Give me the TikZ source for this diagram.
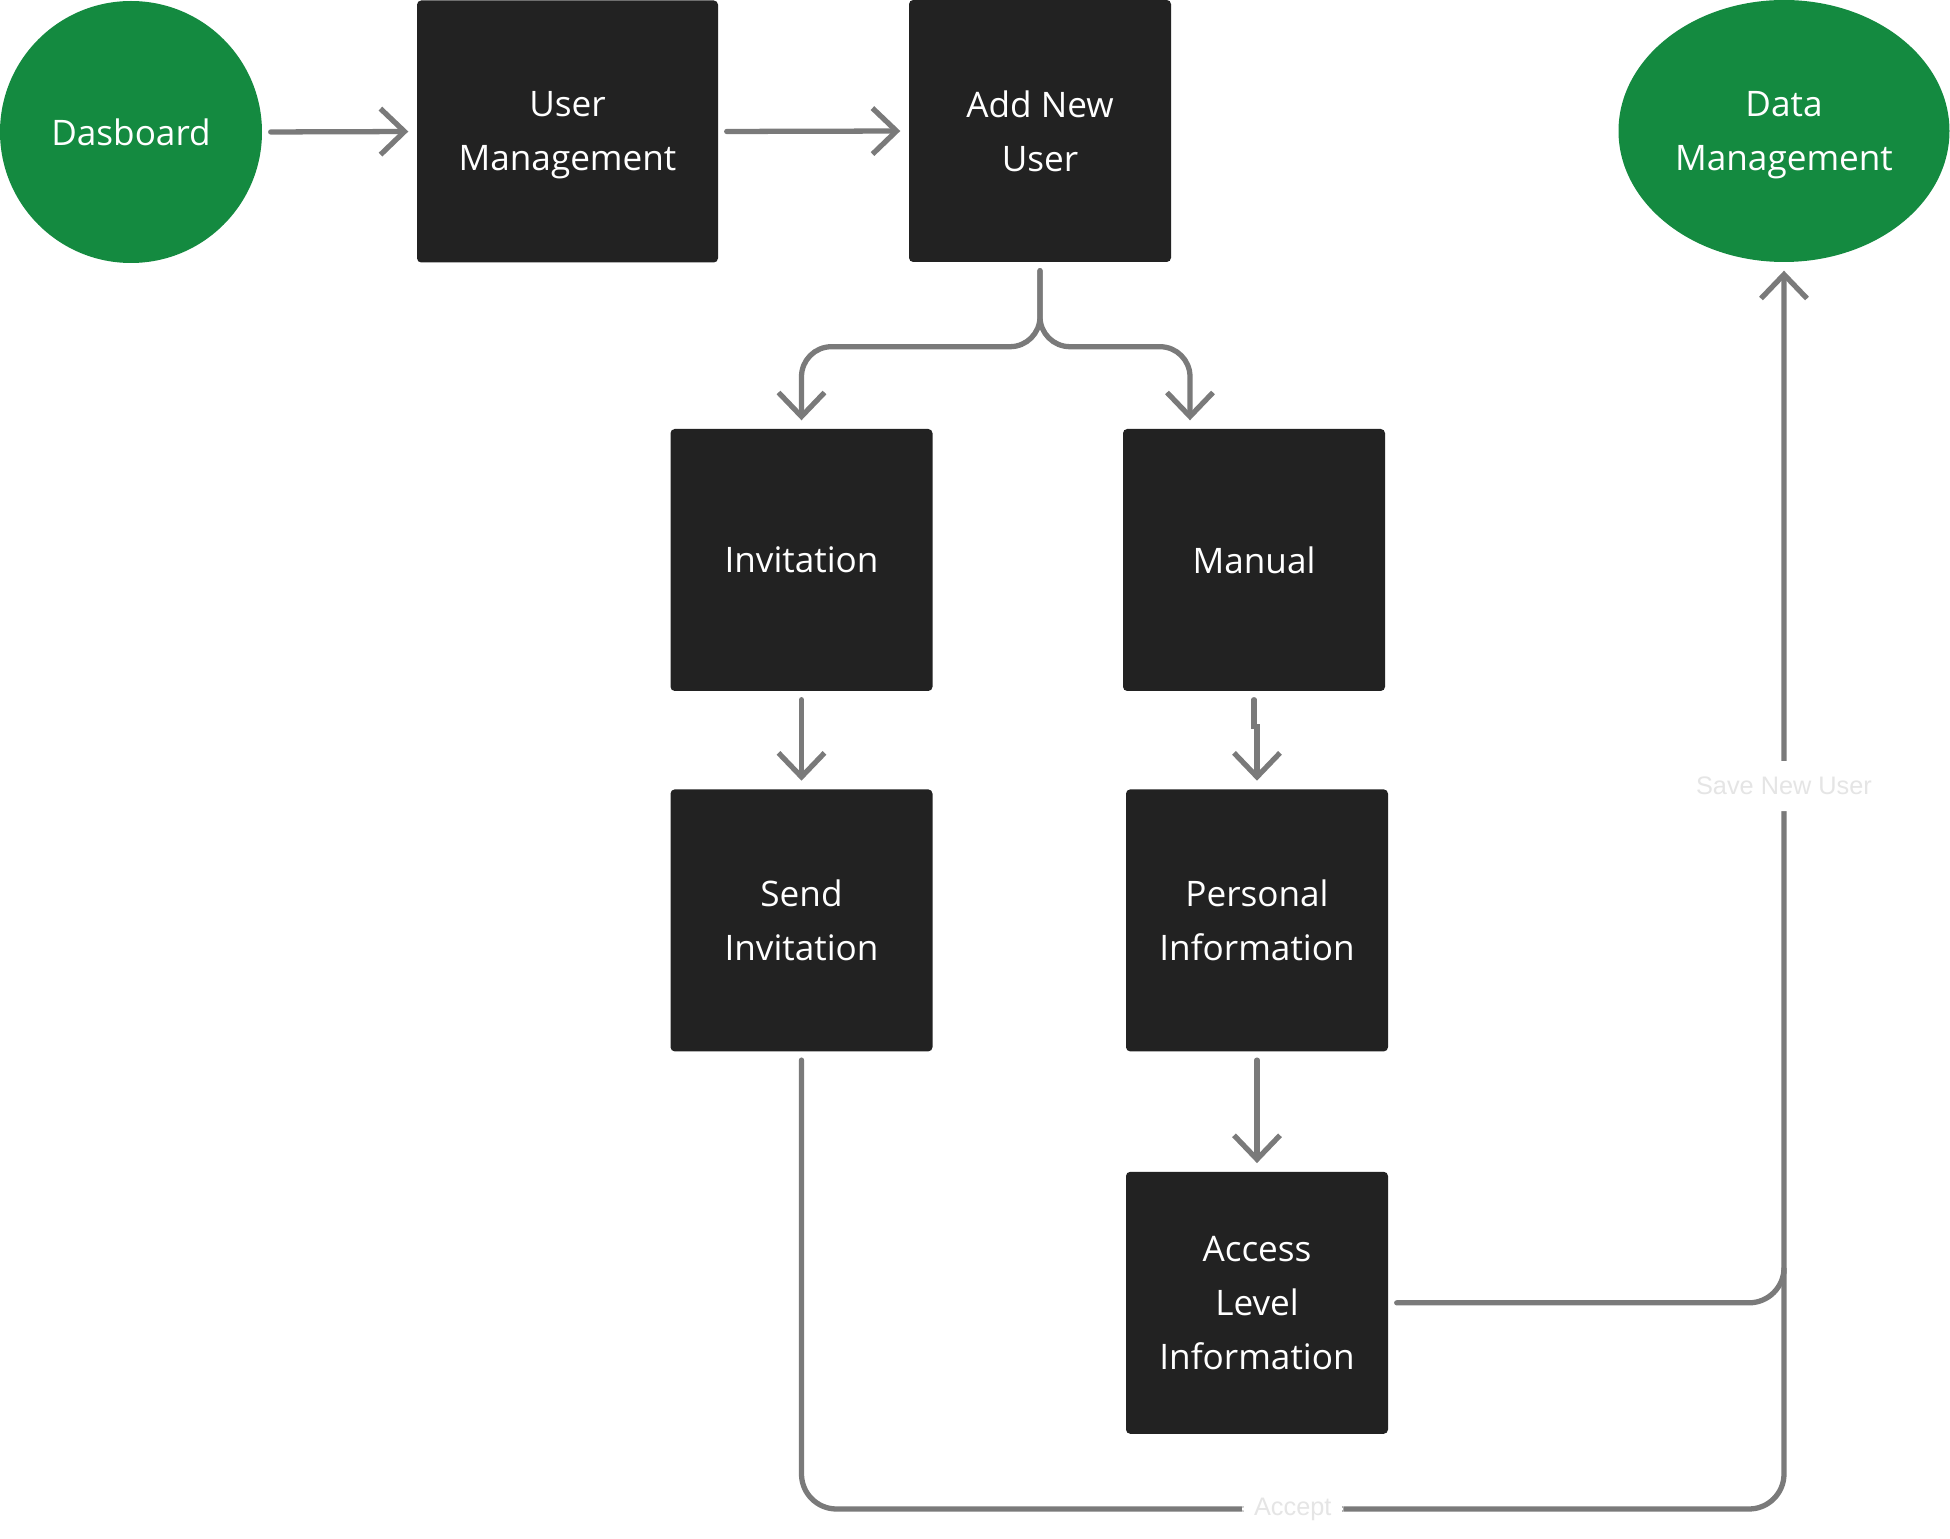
\documentclass[tikz,border=0pt]{standalone}
\usepackage{fontspec}
\setmainfont{Open Sans}
\newfontfamily\labelfont{Liberation Sans}
\usetikzlibrary{positioning,arrows.meta,shapes.geometric,calc}
\definecolor{boxgray}{HTML}{222222}
\definecolor{leafgreen}{HTML}{148A40}
\definecolor{linegray}{HTML}{7A7A7A}

\begin{document}
\begin{tikzpicture}[
    node distance=0.97cm,
    box/.style={fill=boxgray, rounded corners=1.2pt, minimum width=2.62cm, minimum height=2.62cm, text=white, align=center, font=\fontsize{10}{15.3}\selectfont, inner sep=0pt},
    term/.style={fill=leafgreen, text=white, align=center, font=\fontsize{10}{15.3}\selectfont, inner sep=0pt},
    flow/.style={linegray, line width=1.5pt, line cap=round, shorten <=0.08cm, shorten >=0.08cm},
    tip/.style={-{Straight Barb[length=2.4mm, width=4.6mm]}},
    lbl/.style={fill=white, text=black!10, font=\labelfont\fontsize{7.2}{9}\selectfont, inner xsep=0.12cm, inner ysep=0.16cm},
]
    \useasboundingbox (0,0) rectangle (19.5,-15.39);

    \node[term, circle, minimum size=2.62cm] (dash) at (1.31,-1.32) {Dasboard};
    \node[box, minimum width=3.01cm] (um) at (5.675,-1.315) {User\\Mana\smash{g}ement};
    \node[box] (anu) at (10.40,-1.31) {Add New\\User};
    \node[term, ellipse, minimum width=3.31cm, minimum height=2.62cm] (dm) at (17.84,-1.31) {Data\\Mana\smash{g}ement};

    \node[box] (inv) at (8.015,-5.60) {Invitation};
    \node[box] (man) at (12.54,-5.60) {Manual};
    \node[box, below=of inv] (sinv) {Send\\Invitation};
    \node[box, below=of man, xshift=0.03cm] (pinf) {Personal\\Information};
    \node[box, below=1.19cm of pinf] (acc) {Access\\Level\\Information};

    \coordinate (fork) at ($(anu.south)+(0,-0.84)$);
    \coordinate (manin) at ($(man.north)+(-0.64,0)$);
    \coordinate (turn) at (dm.south |- 0,-15.09);
    \coordinate (merge) at (dm.south |- 0,-12.65);

    \foreach \a/\b in {dash.east/um.west, um.east/anu.west, inv.south/sinv.north, pinf.south/acc.north} {
        \draw[flow, tip] (\a) -- (\b);
    }
    \draw[flow, tip] (man.south) -- ++(0,-0.35) -| (pinf.north);

    % split below Add New User
    \draw[flow, tip, rounded corners=0.3cm] (anu.south) -- (fork) -| (inv.north);
    \draw[flow, tip, rounded corners=0.3cm] (anu.south) -- (fork) -| (manin);

    % back to Data Management
    \draw[flow, tip, rounded corners=0.35cm] (sinv.south) |- node[lbl, pos=0.75] {Accept} (turn)
        -- node[lbl, pos=0.58] {Save New User} (dm.south);
    \draw[flow, rounded corners=0.35cm] (acc.east) -| (merge);
\end{tikzpicture}
\end{document}
